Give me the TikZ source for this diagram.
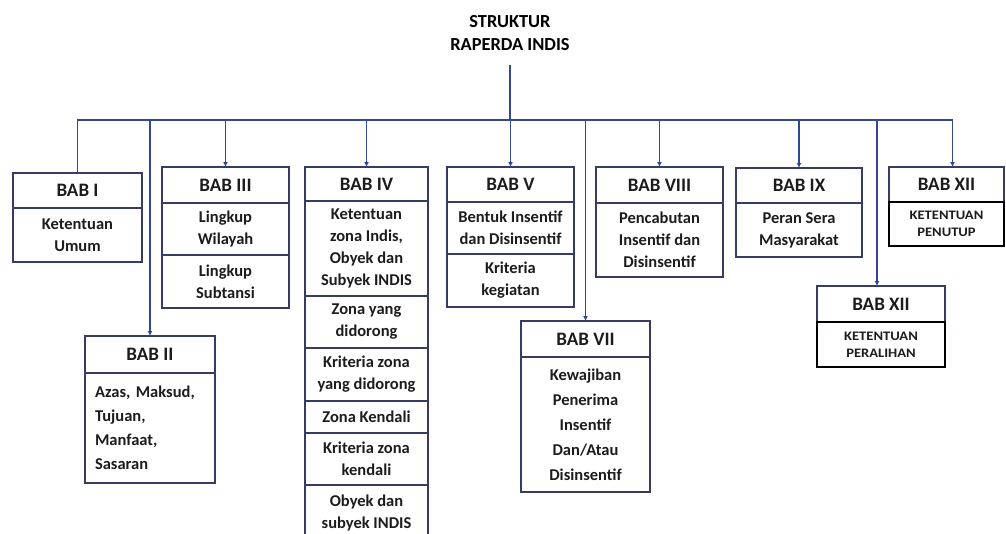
\documentclass[tikz,border=0pt]{standalone}
\usepackage{fontspec}
\setmainfont{Carlito}
\newfontfamily\capsfont[FakeStretch=1.12]{Carlito}
\usetikzlibrary{positioning,arrows.meta}
\definecolor{linkblue}{RGB}{52,70,150}
\definecolor{boxline}{RGB}{55,60,100}
\definecolor{inkgray}{RGB}{28,28,28}
\tikzset{
  box/.style={draw=boxline,line width=1.1pt,inner sep=0pt,outer sep=0pt,
    align=center,text=inkgray,minimum width=#1},
  hdr/.style={box=#1,minimum height=35pt,font=\fontsize{19}{22}\selectfont\bfseries},
  part/.style={box=#1,font=\fontsize{16.5}{22}\selectfont\bfseries},
  closing/.style={part=#1,draw=black,line width=2pt,
    font=\capsfont\fontsize{13}{17}\selectfont\bfseries},
  link/.style={draw=linkblue,line width=1.1pt},
  tip/.style={-{Latex[length=5pt,width=5pt]}}
}
\begin{document}
\begin{tikzpicture}[x=1pt,y=-1pt]
  \useasboundingbox (0,0) rectangle (1006,533);
  \node[font=\fontsize{18.4}{23}\selectfont\bfseries,align=center,inner sep=0pt] (title)
    at (510,33) {STRUKTUR\\RAPERDA INDIS};
  \coordinate (bus) at (510,120);

  \node[hdr=129pt,anchor=north west] (hdrI) at (13,173) {BAB I};
  \node[part=129pt,minimum height=54pt,below=0pt of hdrI] (bodyI) {Ketentuan\\Umum};

  \node[hdr=130pt,minimum height=37pt,anchor=north west] (hdrII) at (85,336) {BAB II};
  \node[part=130pt,minimum height=110pt,text width=110pt,align=left,
    font=\fontsize{16.5}{24}\selectfont\bfseries,below=0pt of hdrII] (bodyII)
    {Azas, Maksud,\\Tujuan,\\Manfaat,\\Sasaran};

  \node[hdr=127pt,minimum height=36pt,anchor=north west] (hdrIII) at (162,167) {BAB III};
  \node[part=127pt,minimum height=52pt,below=0pt of hdrIII] (bodyIIIa) {Lingkup\\Wilayah};
  \node[part=127pt,minimum height=53pt,below=0pt of bodyIIIa] (bodyIIIb) {Lingkup\\Subtansi};

  \node[hdr=123pt,minimum height=34pt,anchor=north west] (hdrIV) at (305,167) {BAB IV};
  \node[part=123pt,minimum height=95pt,below=0pt of hdrIV] (bodyIVa)
    {Ketentuan\\zona Indis,\\Obyek dan\\Subyek INDIS};
  \node[part=123pt,minimum height=52pt,below=0pt of bodyIVa] (bodyIVb) {Zona yang\\didorong};
  \node[part=123pt,minimum height=53pt,below=0pt of bodyIVb] (bodyIVc) {Kriteria zona\\yang didorong};
  \node[part=123pt,minimum height=32pt,below=0pt of bodyIVc] (bodyIVd) {Zona Kendali};
  \node[part=123pt,minimum height=52pt,below=0pt of bodyIVd] (bodyIVe) {Kriteria zona\\kendali};
  \node[part=123pt,minimum height=56pt,below=0pt of bodyIVe] (bodyIVf) {Obyek dan\\subyek INDIS};

  \node[hdr=127pt,anchor=north west] (hdrV) at (447,167) {BAB V};
  \node[part=127pt,minimum height=52pt,below=0pt of hdrV] (bodyVa) {Bentuk Insentif\\dan Disinsentif};
  \node[part=127pt,minimum height=53pt,below=0pt of bodyVa] (bodyVb) {Kriteria\\kegiatan};

  \node[hdr=129pt,minimum height=36pt,anchor=north west] (hdrVII) at (521,321) {BAB VII};
  \node[part=129pt,minimum height=135pt,font=\fontsize{16.5}{25}\selectfont\bfseries,
    below=0pt of hdrVII] (bodyVII) {Kewajiban\\Penerima\\Insentif\\Dan/Atau\\Disinsentif};

  \node[hdr=127pt,minimum height=36pt,anchor=north west] (hdrVIII) at (596,167) {BAB VIII};
  \node[part=127pt,minimum height=74pt,below=0pt of hdrVIII] (bodyVIII)
    {Pencabutan\\Insentif dan\\Disinsentif};

  \node[hdr=126pt,anchor=north west] (hdrIX) at (736,168) {BAB IX};
  \node[part=126pt,minimum height=54pt,below=0pt of hdrIX] (bodyIX) {Peran Sera\\Masyarakat};

  \node[hdr=115pt,anchor=north west] (hdrXIIpen) at (889,167) {BAB XII};
  \node[closing=115pt,minimum height=44pt,below=0pt of hdrXIIpen] (bodyXIIpen) {KETENTUAN\\PENUTUP};

  \node[hdr=128pt,minimum height=36pt,anchor=north west] (hdrXIIper) at (817,286) {BAB XII};
  \node[closing=128pt,minimum height=45pt,below=0pt of hdrXIIper] (bodyXIIper) {KETENTUAN\\PERALIHAN};

  \coordinate (dropXIIpen) at ([xshift=6pt]hdrXIIpen.north);
  \coordinate (dropXIIper) at ([xshift=-4pt]hdrXIIper.north);
  \draw[link,shorten <=14pt] (title) -- (bus);
  \draw[link] (hdrI.north) |- (dropXIIpen |- bus);
  \foreach \b in {II,III,IV,V,VII,VIII,IX}
    \draw[link,tip] (hdr\b.north |- bus) -- (hdr\b.north);
  \foreach \b in {XIIpen,XIIper}
    \draw[link,tip] (drop\b |- bus) -- (drop\b);
\end{tikzpicture}
\end{document}
